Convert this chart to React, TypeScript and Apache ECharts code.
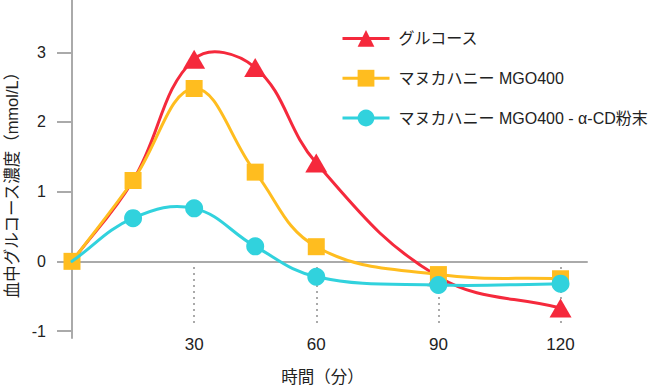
import React, { useEffect, useRef } from 'react';
import * as echarts from 'echarts';

const minutes = [0, 15, 30, 45, 60, 90, 120];
const seriesNames = ['グルコース', 'マヌカハニー MGO400', 'マヌカハニー MGO400 - α-CD粉末'];
const glucose = [0, 1.16, 2.9, 2.78, 1.41, -0.22, -0.67];
const manuka = [0, 1.16, 2.48, 1.28, 0.21, -0.19, -0.25];
const manukaCD = [0, 0.62, 0.76, 0.215, -0.22, -0.34, -0.32];
// markers hidden beneath the orange squares in the reference
const hiddenMarkers = [[0, 15], [], [0]];
const xTicks = [30, 60, 90, 120];
const yTicks = [-1, 0, 1, 2, 3];
const xAxisName = '時間（分）';
const yAxisName = '血中グルコース濃度（mmol/L）';

const FONT = "'Liberation Sans', 'Noto Sans CJK JP', sans-serif";
const GRAY = '#aaaaaa';
const TEXT = '#222222';
const colors = ['#f5293c', '#ffbd1f', '#31d2dd'];
const symbols = ['triangle', 'rect', 'circle'];
const symbolSizes: any[] = [[22, 19], 17, 18];
const TENSION = 0.4;

function makeRenderItem(vals: number[], color: string) {
  return (params: any, api: any) => {
    const i = params.dataIndex;
    const n = minutes.length;
    if (i >= n - 1) return null;
    const pt = (k: number) => api.coord([minutes[k], vals[k]]);
    const p0 = pt(Math.max(i - 1, 0));
    const p1 = pt(i);
    const p2 = pt(i + 1);
    const p3 = pt(Math.min(i + 2, n - 1));
    const dist = (a: number[], b: number[]) => Math.hypot(b[0] - a[0], b[1] - a[1]);
    const d01 = dist(p0, p1);
    const d12 = dist(p1, p2);
    const fb = d01 + d12 > 0 ? (TENSION * d12) / (d01 + d12) : 0;
    const c1x = p1[0] + fb * (p2[0] - p0[0]);
    const c1y = p1[1] + fb * (p2[1] - p0[1]);
    const d23 = dist(p2, p3);
    const fa = d12 + d23 > 0 ? (TENSION * d12) / (d12 + d23) : 0;
    const c2x = p2[0] - fa * (p3[0] - p1[0]);
    const c2y = p2[1] - fa * (p3[1] - p1[1]);
    return {
      type: 'bezierCurve',
      shape: { x1: p1[0], y1: p1[1], x2: p2[0], y2: p2[1], cpx1: c1x, cpy1: c1y, cpx2: c2x, cpy2: c2y },
      style: { stroke: color, lineWidth: 3, fill: null, lineCap: 'round' },
      silent: true,
    };
  };
}

export default function App() {
  const ref = useRef<HTMLDivElement>(null);
  useEffect(() => {
    if (!ref.current) return;
    const chart = echarts.init(ref.current, undefined, { renderer: 'svg' });
    const values = [glucose, manuka, manukaCD];
    const series: any[] = [];
    values.forEach((vals, i) => {
      series.push({
        name: seriesNames[i],
        type: 'line',
        xAxisIndex: 0,
        yAxisIndex: 0,
        data: minutes.map((m, j) =>
          hiddenMarkers[i].includes(m) ? { value: [m, vals[j]], symbol: 'none' } : [m, vals[j]]
        ),
        symbol: symbols[i],
        symbolSize: symbolSizes[i],
        showAllSymbol: true,
        lineStyle: { color: colors[i], width: 3, opacity: 0 },
        itemStyle: { color: colors[i], borderWidth: 0 },
        emphasis: { disabled: true },
        z: 3 + i * 2,
      });
    });
    values.forEach((vals, i) => {
      series.push({
        id: 'curve' + i,
        type: 'custom',
        xAxisIndex: 0,
        yAxisIndex: 0,
        data: minutes.map((m, j) => [m, vals[j]]),
        renderItem: makeRenderItem(vals, colors[i]),
        clip: false,
        z: 2 + i * 2,
        silent: true,
      });
    });
    chart.setOption({
      animation: false,
      textStyle: { fontFamily: FONT, color: TEXT },
      grid: { left: 72, right: 63, top: 0, bottom: 48, containLabel: false, outerBoundsMode: 'none' },
      legend: {
        orient: 'vertical',
        left: 336,
        top: 25,
        itemWidth: 47,
        itemHeight: 21,
        itemGap: 23,
        data: seriesNames.map((name, i) => ({
          name,
          lineStyle: { color: colors[i], width: 3, opacity: 1 },
        })),
        textStyle: { fontSize: 16, color: TEXT, fontFamily: FONT, padding: [0, 0, 0, 4] },
      },
      xAxis: [
        {
          type: 'value',
          min: 0,
          max: 126.5,
          position: 'bottom',
          axisLine: { show: true, onZero: true, lineStyle: { color: GRAY, width: 2 } },
          axisTick: { show: false },
          axisLabel: { show: false },
          splitLine: { show: false },
        },
        {
          type: 'value',
          min: 0,
          max: 126.5,
          position: 'bottom',
          offset: -15,
          axisLine: { show: false, onZero: false },
          axisTick: {
            show: true,
            inside: true,
            length: 58,
            customValues: xTicks,
            lineStyle: { color: GRAY, width: 2, type: [2, 4] },
          },
          axisLabel: {
            show: true,
            customValues: xTicks,
            margin: 13,
            fontSize: 17,
            color: TEXT,
            fontFamily: FONT,
          },
          splitLine: { show: false },
          name: xAxisName,
          nameLocation: 'middle',
          nameGap: 46,
          nameTextStyle: { fontSize: 16.5, color: TEXT, fontFamily: FONT, padding: [0, 14, 0, 0] },
        },
      ],
      yAxis: {
        type: 'value',
        min: -1.1,
        max: 3.75,
        axisLine: { show: true, onZero: false, lineStyle: { color: GRAY, width: 2 } },
        axisTick: {
          show: true,
          inside: false,
          length: 15,
          customValues: yTicks,
          lineStyle: { color: GRAY, width: 2 },
        },
        axisLabel: {
          show: true,
          customValues: yTicks,
          margin: 26,
          fontSize: 16,
          color: TEXT,
          fontFamily: FONT,
        },
        splitLine: { show: false },
        name: yAxisName,
        nameLocation: 'middle',
        nameGap: 52,
        nameRotate: 90,
        nameTextStyle: { fontSize: 16.5, color: TEXT, fontFamily: FONT, padding: [0, 24, 0, 0] },
      },
      series,
    });
    return () => chart.dispose();
  }, []);
  return (
    <div
      ref={ref}
      style={{ position: 'fixed', left: 0, top: 0, width: 650, height: 386, background: '#ffffff' }}
    />
  );
}
